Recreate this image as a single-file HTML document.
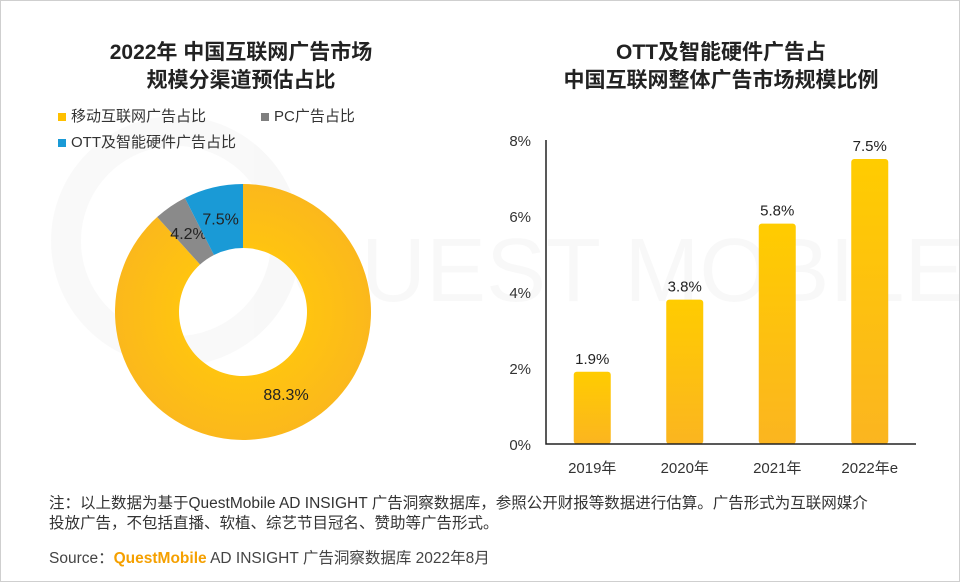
<!DOCTYPE html>
<html><head><meta charset="utf-8">
<style>
body{margin:0;background:#fff;font-family:"Liberation Sans","Noto Sans CJK SC",sans-serif;}
#root{position:relative;width:958px;height:580px;border:1px solid #cfcfcf;overflow:hidden;background:#fff;}
.t{position:absolute;color:#222;}
</style></head><body>
<div id="root">
<svg width="958" height="580" style="position:absolute;left:0;top:0">
<defs>
<linearGradient id="bg" x1="0" y1="0" x2="0" y2="1"><stop offset="0" stop-color="#ffcc00"/><stop offset="1" stop-color="#fbb520"/></linearGradient>
<radialGradient id="yg"><stop offset="0.5" stop-color="#ffc410"/><stop offset="1" stop-color="#fbb81c"/></radialGradient>
</defs>
<g opacity="0.025">
<circle cx="175" cy="240" r="110" fill="none" stroke="#000" stroke-width="30"/>
<text x="290" y="300" font-size="90" font-family="Liberation Sans" fill="#000">QUEST MOBILE</text>
</g>
<g id="donut"></g>
<g id="bars"></g>
</svg>
<div class="t" style="left:0;width:480px;top:38px;text-align:center;font-size:21px;line-height:28px;font-weight:bold;">2022年 中国互联网广告市场<br>规模分渠道预估占比</div>
<div class="t" style="left:480px;width:480px;top:38px;text-align:center;font-size:21px;line-height:28px;font-weight:bold;">OTT及智能硬件广告占<br>中国互联网整体广告市场规模比例</div>
<div class="t" style="left:57px;top:104px;font-size:15px;color:#333"><span style="display:inline-block;width:8px;height:8px;background:#ffc000;margin-right:5px"></span>移动互联网广告占比</div>
<div class="t" style="left:260px;top:104px;font-size:15px;color:#333"><span style="display:inline-block;width:8px;height:8px;background:#7f7f7f;margin-right:5px"></span>PC广告占比</div>
<div class="t" style="left:57px;top:130px;font-size:15px;color:#333"><span style="display:inline-block;width:8px;height:8px;background:#1a9ad6;margin-right:5px"></span>OTT及智能硬件广告占比</div>
<div class="t" style="left:48px;top:493px;font-size:15.5px;line-height:20px;color:#333;width:900px;white-space:nowrap">注：以上数据为基于QuestMobile AD INSIGHT 广告洞察数据库，参照公开财报等数据进行估算。广告形式为互联网媒介<br>投放广告，不包括直播、软植、综艺节目冠名、赞助等广告形式。</div>
<div class="t" style="left:48px;top:545px;font-size:15.5px;color:#444">Source：<span style="color:#f5a000;font-weight:bold">QuestMobile</span> AD INSIGHT 广告洞察数据库 2022年8月</div>
</div>
<script>
const sliceLabels=["移动互联网广告占比","PC广告占比","OTT及智能硬件广告占比"];
const sliceValues=[88.3,4.2,7.5];
const sliceColors=["url(#yg)","#8a8a8a","#1a9ad6"];
const categories=["2019年","2020年","2021年","2022年e"];
const barValues=[1.9,3.8,5.8,7.5];
const yTicks=[0,2,4,6,8];
const NS="http://www.w3.org/2000/svg";
function mk(t,a,p){const e=document.createElementNS(NS,t);for(const k in a)e.setAttribute(k,a[k]);p.appendChild(e);return e;}
const dg=document.getElementById('donut');
const cx=242,cy=311,R=128,r=64;
const total=sliceValues.reduce((a,b)=>a+b,0);
let ang=0;
function pt(a,rad){return [cx+rad*Math.sin(a),cy-rad*Math.cos(a)];}
sliceValues.forEach((v,i)=>{
 const a0=ang,a1=ang+v/total*2*Math.PI;ang=a1;
 const lg=(a1-a0)>Math.PI?1:0;
 const p0=pt(a0,R),p1=pt(a1,R),q1=pt(a1,r),q0=pt(a0,r);
 const p=mk('path',{d:`M${p0}A${R},${R} 0 ${lg} 1 ${p1}L${q1}A${r},${r} 0 ${lg} 0 ${q0}Z`,fill:sliceColors[i]},dg);
 
 
 const m=(a0+a1)/2;let lp=pt(m,(R+r)/2);
 if(i===0)lp=[cx+43,cy+82];
 const tx=mk('text',{x:lp[0],y:lp[1]+6,'text-anchor':'middle','font-size':16,fill:'#222','font-family':'Liberation Sans'},dg);
 tx.textContent=v.toFixed(1)+'%';
 
 
});
const bg=document.getElementById('bars');
const x0=545,x1=915,y0=443,yTop=139;
const ys=v=>y0-(v/8)*(y0-yTop);
const band=(x1-x0)/categories.length;
const xs=i=>x0+band*(i+0.5);
yTicks.forEach(t=>{
 const e=mk('text',{x:530,y:ys(t)+6,'text-anchor':'end','font-size':15,fill:'#333','font-family':'Liberation Sans'},bg);
 e.textContent=t+'%';
 
 
});
barValues.forEach((v,i)=>{
 const w=37;
 const b=mk('rect',{x:xs(i)-w/2,y:ys(v),width:w,height:y0-ys(v),rx:3,fill:'url(#bg)'},bg);
 
 
 const l=mk('text',{x:xs(i),y:ys(v)-8,'text-anchor':'middle','font-size':15,fill:'#222','font-family':'Liberation Sans'},bg);
 l.textContent=v.toFixed(1)+'%';
 
 
 const c=mk('text',{x:xs(i),y:472,'text-anchor':'middle','font-size':15,fill:'#333','font-family':'Liberation Sans, Noto Sans CJK SC'},bg);
 c.textContent=categories[i];
 
 
});
const ax=mk('path',{d:`M${x0},${yTop}V${y0}H${x1}`,stroke:'#222','stroke-width':1.5,fill:'none'},bg);


</script>
</body></html>
